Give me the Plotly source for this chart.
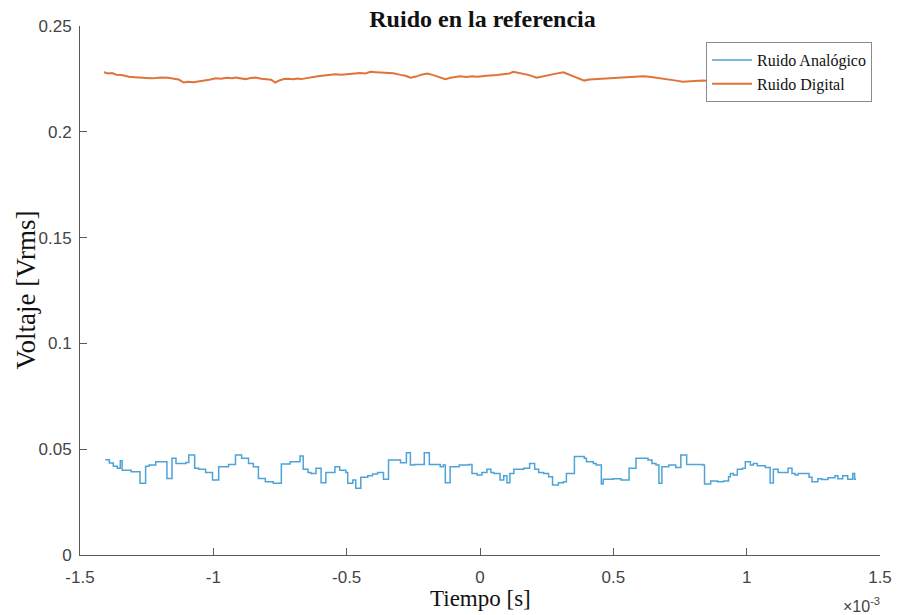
import plotly.graph_objects as go

# Time stamps in microseconds, RMS noise in volts
analog_t_us = [-1405, -1390, -1375, -1360, -1349, -1342, -1308, -1275, -1254, -1241,
               -1216, -1174, -1155, -1140, -1103, -1092, -1070, -1055, -1029, -1003,
               -980, -943, -917, -894, -868, -850, -831, -805, -775, -745,
               -712, -675, -663, -645, -634, -615, -596, -578, -544, -526,
               -503, -496, -477, -466, -447, -421, -403, -384, -362, -343,
               -298, -276, -261, -246, -209, -190, -149, -138, -130, -112,
               -78, -41, -30, -11, 7, 26, 41, 52, 75, 89,
               101, 112, 127, 164, 186, 205, 220, 239, 257, 272,
               294, 313, 324, 354, 391, 399, 425, 436, 455, 462,
               499, 529, 559, 585, 630, 645, 660, 671, 682, 708,
               734, 753, 775, 835, 842, 865, 891, 913, 932, 939,
               950, 965, 984, 995, 1014, 1025, 1040, 1070, 1088, 1100,
               1118, 1155, 1170, 1182, 1193, 1234, 1245, 1267, 1282, 1305,
               1331, 1342, 1360, 1379, 1398, 1405, 1410]
analog_v = [0.0450, 0.0435, 0.0420, 0.0410, 0.0445, 0.0400, 0.0394, 0.0339, 0.0420, 0.0425,
            0.0441, 0.0362, 0.0457, 0.0433, 0.0437, 0.0473, 0.0410, 0.0405, 0.0390, 0.0354,
            0.0417, 0.0428, 0.0473, 0.0457, 0.0433, 0.0417, 0.0362, 0.0346, 0.0339, 0.0430,
            0.0441, 0.0468, 0.0405, 0.0390, 0.0385, 0.0410, 0.0342, 0.0390, 0.0417, 0.0400,
            0.0390, 0.0339, 0.0354, 0.0315, 0.0367, 0.0375, 0.0383, 0.0390, 0.0358, 0.0449,
            0.0436, 0.0483, 0.0425, 0.0428, 0.0483, 0.0428, 0.0417, 0.0425, 0.0342, 0.0417,
            0.0425, 0.0428, 0.0385, 0.0378, 0.0390, 0.0405, 0.0390, 0.0385, 0.0354, 0.0375,
            0.0342, 0.0385, 0.0405, 0.0410, 0.0433, 0.0405, 0.0390, 0.0385, 0.0370, 0.0331,
            0.0342, 0.0346, 0.0385, 0.0465, 0.0457, 0.0441, 0.0433, 0.0425, 0.0336, 0.0358,
            0.0360, 0.0354, 0.0410, 0.0457, 0.0449, 0.0433, 0.0425, 0.0339, 0.0417, 0.0425,
            0.0413, 0.0473, 0.0428, 0.0425, 0.0336, 0.0350, 0.0346, 0.0350, 0.0370, 0.0385,
            0.0378, 0.0405, 0.0410, 0.0441, 0.0425, 0.0433, 0.0422, 0.0413, 0.0340, 0.0405,
            0.0390, 0.0410, 0.0385, 0.0378, 0.0385, 0.0368, 0.0346, 0.0360, 0.0357, 0.0365,
            0.0375, 0.0360, 0.0375, 0.0358, 0.0385, 0.0358, 0.0358]

digital_t_us = [-1410, -1395, -1380, -1364, -1345, -1330, -1316, -1295, -1275, -1255,
                -1235, -1215, -1193, -1170, -1150, -1130, -1111, -1095, -1075, -1055,
                -1035, -1015, -991, -970, -950, -930, -917, -900, -880, -860,
                -842, -820, -800, -783, -768, -750, -735, -719, -700, -685,
                -671, -650, -630, -608, -585, -565, -544, -520, -495, -470,
                -450, -430, -410, -390, -365, -347, -325, -298, -280, -261,
                -240, -220, -198, -175, -150, -130, -110, -90, -75, -50,
                -30, -11, 10, 35, 63, 85, 110, 125, 138, 160,
                185, 212, 225, 239, 260, 285, 313, 330, 350, 370,
                391, 410, 436, 460, 485, 511, 535, 560, 585, 611,
                635, 660, 686, 705, 730, 760, 785, 810, 835, 870,
                910, 950, 1000, 1050, 1100, 1150, 1200, 1250, 1300, 1350, 1410]
digital_v = [0.2281, 0.2276, 0.2278, 0.2270, 0.2268, 0.2263, 0.2260, 0.2258, 0.2256, 0.2257,
             0.2253, 0.2254, 0.2257, 0.2255, 0.2252, 0.2247, 0.2233, 0.2236, 0.2234, 0.2237,
             0.2240, 0.2246, 0.2253, 0.2251, 0.2255, 0.2253, 0.2257, 0.2252, 0.2249, 0.2254,
             0.2256, 0.2251, 0.2249, 0.2246, 0.2233, 0.2244, 0.2249, 0.2251, 0.2248, 0.2252,
             0.2249, 0.2254, 0.2259, 0.2263, 0.2266, 0.2269, 0.2272, 0.2270, 0.2274, 0.2275,
             0.2278, 0.2276, 0.2284, 0.2282, 0.2280, 0.2282, 0.2277, 0.2269, 0.2265, 0.2256,
             0.2261, 0.2270, 0.2275, 0.2268, 0.2258, 0.2249, 0.2255, 0.2261, 0.2263, 0.2259,
             0.2262, 0.2260, 0.2264, 0.2266, 0.2269, 0.2272, 0.2276, 0.2284, 0.2281, 0.2276,
             0.2268, 0.2256, 0.2260, 0.2263, 0.2268, 0.2275, 0.2281, 0.2272, 0.2263, 0.2252,
             0.2242, 0.2247, 0.2249, 0.2251, 0.2250, 0.2253, 0.2256, 0.2258, 0.2261, 0.2263,
             0.2260, 0.2256, 0.2253, 0.2248, 0.2243, 0.2237, 0.2239, 0.2241, 0.2242, 0.2240,
             0.2244, 0.2241, 0.2246, 0.2242, 0.2244, 0.2240, 0.2243, 0.2239, 0.2242, 0.2240, 0.2243]

x_ticks = [-1.5, -1, -0.5, 0, 0.5, 1, 1.5]
x_tick_text = ["-1.5", "-1", "-0.5", "0", "0.5", "1", "1.5"]
y_ticks = [0, 0.05, 0.1, 0.15, 0.2, 0.25]
y_tick_text = ["0", "0.05", "0.1", "0.15", "0.2", "0.25"]

# x axis is shown in units of 1e-3 s
analog_x = [t / 1000 for t in analog_t_us]
digital_x = [t / 1000 for t in digital_t_us]

BLUE = "#4ea3d8"
ORANGE = "#e0733a"
SERIF = "Liberation Serif, Times New Roman, serif"
SANS = "Liberation Sans, Arial, sans-serif"
AXIS_GRAY = "#5a5a5a"
TICK_TEXT = "#444444"

fig = go.Figure()
fig.add_trace(go.Scatter(x=analog_x, y=analog_v, mode="lines", name="Ruido Analógico",
                         line=dict(color=BLUE, width=1.5, shape="hv")))
fig.add_trace(go.Scatter(x=digital_x, y=digital_v, mode="lines", name="Ruido Digital",
                         line=dict(color=ORANGE, width=2)))

fig.update_layout(
    width=904, height=615,
    margin=dict(l=80, r=19, t=26, b=60),
    plot_bgcolor="white", paper_bgcolor="white",
    title=dict(text="<b>Ruido en la referencia</b>", x=(80 + 885) / 2 / 904, xanchor="center",
               y=1 - 19 / 615, yanchor="middle",
               font=dict(family=SERIF, size=24, color="#111111")),
    legend=dict(x=(710 - 80) / 805, y=(555 - 42) / 529, xanchor="left", yanchor="top",
                bgcolor="white", bordercolor="#8a8a8a", borderwidth=1,
                font=dict(family=SERIF, size=16, color="#111111"),
                tracegroupgap=0, itemwidth=40),
    showlegend=True,
)

fig.update_xaxes(range=[-1.5, 1.5], tickvals=x_ticks, ticktext=x_tick_text,
                 showgrid=False, zeroline=False, showline=True, linecolor=AXIS_GRAY, linewidth=1,
                 ticks="inside", ticklen=7, tickcolor=AXIS_GRAY, ticklabelstandoff=7,
                 tickfont=dict(family=SANS, size=17, color=TICK_TEXT))
fig.update_yaxes(range=[0, 0.25], tickvals=y_ticks, ticktext=y_tick_text,
                 showgrid=False, zeroline=False, showline=True, linecolor=AXIS_GRAY, linewidth=1,
                 ticks="inside", ticklen=7, tickcolor=AXIS_GRAY, ticklabelstandoff=4,
                 tickfont=dict(family=SANS, size=17, color=TICK_TEXT))

fig.add_annotation(text="Tiempo [s]", xref="paper", yref="paper", x=0.5, y=0,
                   yshift=-43, yanchor="middle", showarrow=False,
                   font=dict(family=SERIF, size=23, color="#111111"))
fig.add_annotation(text="Voltaje [Vrms]", xref="paper", yref="paper", x=0, y=0.5,
                   xshift=-55, xanchor="center", yanchor="middle", textangle=-90,
                   showarrow=False, font=dict(family=SERIF, size=27, color="#111111"))
fig.add_annotation(text="×10<sup>-3</sup>", xref="paper", yref="paper", x=1, y=0,
                   xshift=2, yshift=-50, xanchor="right", yanchor="middle", showarrow=False,
                   font=dict(family=SANS, size=16, color=TICK_TEXT))

fig.write_html("out.html")
